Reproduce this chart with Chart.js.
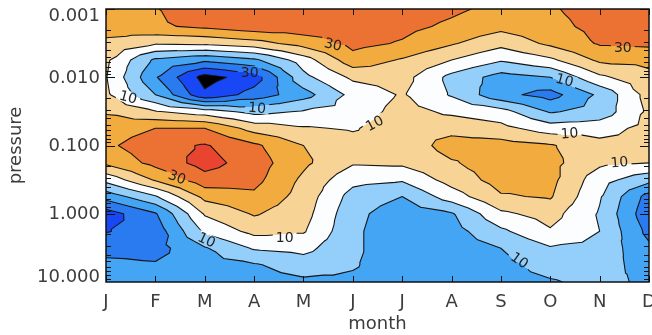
<!DOCTYPE html>
<html>
<head>
<meta charset="utf-8">
<script src="https://cdn.jsdelivr.net/npm/chart.js@4.4.1/dist/chart.umd.min.js"></script>
<style>
html,body{margin:0;padding:0;background:#fff}
#wrap{width:652px;height:335px}
</style>
</head>
<body>
<div id="wrap"><canvas id="chart" width="652" height="335"></canvas></div>
<script>
const monthLabels = ["J","F","M","A","M","J","J","A","S","O","N","D"]
const pressureLevels = [0.001,0.0018,0.0032,0.0056,0.01,0.018,0.032,0.056,0.1,0.18,0.32,0.56,1,1.8,3.2,5.6,10]
const pressureTicks = [0.001,0.01,0.1,1,10]

// one column per month, from 0.001 (top) down to 10 (bottom)
const valJan = [26,24,18,12,10.5,12,19,25,28,22,3,-16,-35,-30.5,-24,-17,-15]
const valFeb = [29.5,28.5,11,-12,-19,-10,11,30,36,33,21,-1,-21,-26,-24,-19,-15]
const valMar = [36,32,12,-18,-44,-38,5,30,41,44,36,23,11,2,-11,-14,-16]
const valApr = [36,36,16,-12,-35,-26,-3,16,32,35,33,28,21,13,1,-11,-14]
const valMay = [36,36,24,5,-3,-14,1,11,20,22,18,16,14,11,3,-5,-12]
const valJun = [37,36,33,26,12,3,4,9,14,11,3,-4,-7,-8,-8,-9,-12]
const valJul = [36,33,29,19,14,11,14,16,14,12,1,-10,-16,-17,-17,-16,-15]
const valAug = [32,28,21,10,-3,-1,8,17,24,19,14,5,-11,-14,-15,-15,-15]
const valSep = [27,23,13,1,-14,-17,4,13,24,25,24,19,8,-2,-10,-13,-14]
const valOct = [29,27,22,8,-10,-24,-11,5,21,23,23,21,14,9,-1,-6,-11]
const valNov = [34,33,31,22,8,-8,-6,6,13,12,4,1,-1,0,-3,-5,-7]
const valDec = [34,34,32,23,17,14,12,13,13,10,-7,-24,-27,-23,-18,-15,-12]

const contourLevels = [-40,-30,-20,-10,0,10,20,30,40]
const bandColors = ["#000000","#1848f5","#2a7bf0","#45a5f5","#93cffa","#fbfdff","#f8d396","#f2ab3e","#ec7234","#e84430"]

// contour labels (month position, pressure, text, angle)
const labelMonth = [4.6,0.45,2.91,3.06,5.44,10.47,9.29,9.39,10.4,1.44,2.04,3.62,8.38]
const labelPressure = [0.0033,0.0195,0.0084,0.028,0.047,0.0036,0.011,0.066,0.175,0.29,2.4,2.2,4.8]
const labelText = ["30","10","30","10","10","30","10","10","10","30","10","10","10"]
const labelAngle = [12,15,0,5,-28,0,15,-4,-5,20,25,0,35]

const grid = [valJan,valFeb,valMar,valApr,valMay,valJun,valJul,valAug,valSep,valOct,valNov,valDec]
const logLevels = pressureLevels.map(p => Math.log10(p))
const fontFamily = "'DejaVu Sans', sans-serif"
const textColor = "#3c3c3c"

function fieldAt(gx, lp){
  let i = Math.min(Math.max(Math.floor(gx),0), grid.length-2)
  let k = 0
  while(k < logLevels.length-2 && lp > logLevels[k+1]) k++
  let u = gx - i
  let v = (lp - logLevels[k]) / (logLevels[k+1] - logLevels[k])
  u = Math.min(Math.max(u,0),1)
  v = Math.min(Math.max(v,0),1)
  const A = grid[i][k], B = grid[i+1][k], C = grid[i+1][k+1], D = grid[i][k+1]
  const M = (A+B+C+D)/4
  if(v <= u && v <= 1-u) return A + (B-A)*u + (2*M-A-B)*v
  if(u >= v && u >= 1-v) return (2*M-C) + (B+C-2*M)*u + (C-B)*v
  if(v >= u && v >= 1-u) return (2*M-C) + (C-D)*u + (D+C-2*M)*v
  return A + (2*M-A-D)*u + (D-A)*v
}

function hexToRgb(h){
  return [parseInt(h.substr(1,2),16),parseInt(h.substr(3,2),16),parseInt(h.substr(5,2),16)]
}
const bandRgb = bandColors.map(hexToRgb)

function bandIndex(val){
  let n = 0
  for(const L of contourLevels){ if(val >= L) n++ }
  return n
}

function triSegment(P, V, L){
  const vv = V.map(t => t === L ? t + 1e-7 : t)
  const pts = []
  for(let e=0;e<3;e++){
    const a = e, b = (e+1)%3
    if((vv[a]-L)*(vv[b]-L) < 0){
      const t = (L - vv[a]) / (vv[b] - vv[a])
      pts.push([P[a][0] + t*(P[b][0]-P[a][0]), P[a][1] + t*(P[b][1]-P[a][1])])
    }
  }
  return pts.length === 2 ? pts : null
}

const contourPlugin = {
  id: "contour",
  afterDraw(chart){
    const ctx = chart.ctx
    const a = chart.chartArea
    const xs = chart.scales.x, ys = chart.scales.y
    const dpr = chart.currentDevicePixelRatio || 1

    // filled bands, pixel by pixel through the scales
    const x0 = Math.round(a.left*dpr), y0 = Math.round(a.top*dpr)
    const w = Math.round((a.right-a.left)*dpr), h = Math.round((a.bottom-a.top)*dpr)
    const img = ctx.createImageData(w, h)
    const gxs = []
    for(let i=0;i<w;i++) gxs.push(xs.getValueForPixel((x0+i+0.5)/dpr))
    for(let j=0;j<h;j++){
      const lp = Math.log10(ys.getValueForPixel((y0+j+0.5)/dpr))
      for(let i=0;i<w;i++){
        const c = bandRgb[bandIndex(fieldAt(gxs[i], lp))]
        const o = (j*w+i)*4
        img.data[o] = c[0]; img.data[o+1] = c[1]; img.data[o+2] = c[2]; img.data[o+3] = 255
      }
    }
    ctx.putImageData(img, x0, y0)

    // label boxes
    ctx.font = "14px " + fontFamily
    const boxes = labelText.map((t,n) => {
      const cx = xs.getPixelForValue(labelMonth[n])
      const cy = ys.getPixelForValue(labelPressure[n])
      const ang = labelAngle[n]*Math.PI/180
      const hw = ctx.measureText(t).width/2 + 3, hh = 6
      const corners = [[-hw,-hh],[hw,-hh],[hw,hh],[-hw,hh]].map(p => [
        cx + p[0]*Math.cos(ang) - p[1]*Math.sin(ang),
        cy + p[0]*Math.sin(ang) + p[1]*Math.cos(ang)])
      return {cx, cy, ang, t, corners}
    })

    // contour lines
    ctx.save()
    ctx.beginPath()
    ctx.rect(a.left, a.top, a.right-a.left, a.bottom-a.top)
    boxes.forEach(b => {
      ctx.moveTo(b.corners[0][0], b.corners[0][1])
      for(let q=1;q<4;q++) ctx.lineTo(b.corners[q][0], b.corners[q][1])
      ctx.closePath()
    })
    ctx.clip("evenodd")
    ctx.beginPath()
    for(let i=0;i<grid.length-1;i++){
      const xa = xs.getPixelForValue(i), xb = xs.getPixelForValue(i+1)
      for(let k=0;k<pressureLevels.length-1;k++){
        const ya = ys.getPixelForValue(pressureLevels[k]), yb = ys.getPixelForValue(pressureLevels[k+1])
        const A = grid[i][k], B = grid[i+1][k], C = grid[i+1][k+1], D = grid[i][k+1]
        const M = (A+B+C+D)/4
        const pa = [xa,ya], pb = [xb,ya], pc = [xb,yb], pd = [xa,yb], pm = [(xa+xb)/2,(ya+yb)/2]
        const tris = [[[pa,pb,pm],[A,B,M]],[[pb,pc,pm],[B,C,M]],[[pc,pd,pm],[C,D,M]],[[pd,pa,pm],[D,A,M]]]
        for(const L of contourLevels){
          for(const tr of tris){
            const s = triSegment(tr[0], tr[1], L)
            if(s){ ctx.moveTo(s[0][0], s[0][1]); ctx.lineTo(s[1][0], s[1][1]) }
          }
        }
      }
    }
    ctx.strokeStyle = "#151515"
    ctx.lineWidth = 1.1
    ctx.lineCap = "round"
    ctx.stroke()
    ctx.restore()

    // contour label text
    ctx.fillStyle = "#222"
    ctx.textAlign = "center"
    ctx.textBaseline = "middle"
    boxes.forEach(b => {
      ctx.save()
      ctx.translate(b.cx, b.cy)
      ctx.rotate(b.ang)
      ctx.fillText(b.t, 0, 1)
      ctx.restore()
    })

    // frame and inward ticks
    ctx.strokeStyle = "#111"
    ctx.lineWidth = 1
    ctx.beginPath()
    for(let i=0;i<monthLabels.length;i++){
      const px = Math.round(xs.getPixelForValue(i)) + 0.5
      ctx.moveTo(px, a.bottom); ctx.lineTo(px, a.bottom-6)
      ctx.moveTo(px, a.top); ctx.lineTo(px, a.top+6)
    }
    for(let e=-3;e<1;e++){
      for(let d=1;d<10;d++){
        const py = Math.round(ys.getPixelForValue(d*Math.pow(10,e))) + 0.5
        const len = d === 1 ? 9 : 5
        ctx.moveTo(a.left, py); ctx.lineTo(a.left+len, py)
        ctx.moveTo(a.right, py); ctx.lineTo(a.right-len, py)
      }
    }
    ctx.stroke()
    ctx.lineWidth = 1.5
    ctx.strokeRect(a.left, a.top, a.right-a.left, a.bottom-a.top)

    // pressure tick labels
    ctx.font = "18px " + fontFamily
    ctx.fillStyle = textColor
    ctx.textAlign = "right"
    ctx.textBaseline = "middle"
    pressureTicks.forEach(p => {
      let py = ys.getPixelForValue(p)
      py = Math.min(Math.max(py, a.top+6), a.bottom-6)
      ctx.fillText(p.toFixed(3), a.left-6, py+1)
    })
  }
}

const gridPoints = []
monthLabels.forEach((m,i) => pressureLevels.forEach(p => gridPoints.push({x:i, y:p})))

new Chart(document.getElementById("chart"), {
  type: "scatter",
  data: {datasets: [{data: gridPoints, pointRadius: 0, showLine: false}]},
  options: {
    responsive: false,
    animation: false,
    layout: {padding: {top: 9, right: 3, left: 0, bottom: 0}},
    plugins: {legend: {display: false}, tooltip: {enabled: false}},
    scales: {
      x: {
        type: "linear", min: 0, max: 11,
        grid: {display: false, drawTicks: false}, border: {display: false},
        ticks: {stepSize: 1, autoSkip: false, maxRotation: 0, padding: 10, color: textColor,
          font: {family: fontFamily, size: 18},
          callback: v => monthLabels[Math.round(v)]},
        title: {display: true, text: "month", color: textColor, font: {family: fontFamily, size: 18}, padding: {top: 0, bottom: 0}},
        afterFit: s => { s.height = 53; s.paddingLeft = 0; s.paddingRight = 0 }
      },
      y: {
        type: "logarithmic", reverse: true, min: 0.001, max: 10, position: "left",
        grid: {display: false, drawTicks: false}, border: {display: false},
        ticks: {display: false},
        title: {display: true, text: "pressure", color: textColor, font: {family: fontFamily, size: 18}, padding: {top: 6, bottom: 0}},
        afterFit: s => { s.width = 106; s.paddingTop = 0; s.paddingBottom = 0 }
      }
    }
  },
  plugins: [contourPlugin]
})
</script>
</body>
</html>
